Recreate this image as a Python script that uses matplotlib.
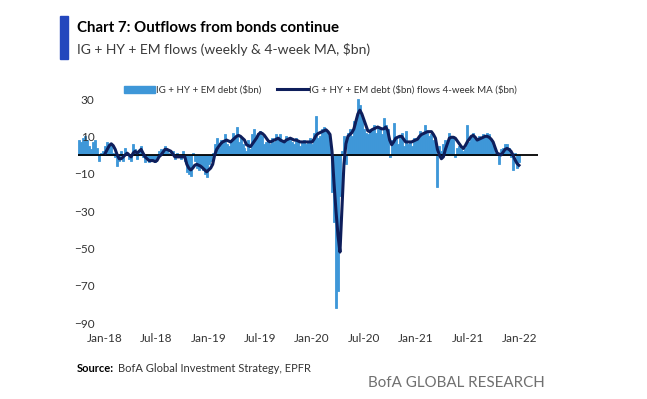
import numpy as np
import pandas as pd
import matplotlib.pyplot as plt
from matplotlib.patches import Rectangle
from matplotlib.lines import Line2D
import matplotlib.dates as mdates

plt.rcParams['font.family'] = ['Lato', 'DejaVu Sans']
plt.rcParams['text.parse_math'] = False

# Weekly flows, IG + HY + EM debt ($bn), weeks ending Wednesday from 4-Oct-2017
weeks = pd.date_range('2017-10-04', periods=222, freq='7D')
flows = [
    # Oct-Dec 2017
    8, 7, 9, 10, 8, 5, 3, 7, 8, 4, -3, 1, 2,
    # 2018
    5, 7, 6, 6, 1, -1, -6, -3, 2,
    -3, 4, 1, -2, -3, 6, 3, -2, 2, 5, -1, -4, -2,
    -4, -3, -3, -4, -1, 2, 3,
    2, 5, 3, 1, 0, 2,
    -2, 1, -1, -2, 2, -3,
    -9, -10, -11, 1, -3, -7, -8, -5, -8, -10, -12, -5, -3, 1,
    # 2019
    6, 9, 4, 8, 7, 11, 6, 5, 8, 12, 9, 15, 7,
    9, 6, 4, 2, 8, 3,
    11, 14, 8, 12, 13, 10, 6, 7, 8,
    6, 9, 7, 11, 9, 11, 8, 7, 10, 9, 8, 7, 6, 9, 8, 5, 7, 8, 6, 7, 9, 6,
    # 2020
    12, 21, 9, 10, 14, 15, 13, 12, 6,
    -20, -36, -82, -73, -22, 2, 10, -5,
    12, 14, 10, 18, 17, 30, 27, 20, 14, 12, 11,
    14, 13, 16, 12, 15, 14, 11, 20, 16, 14,
    -1, 8, 17, 9, 6,
    10, 12, 5, 13, 6, 7, 5, 9, 8,
    # 2021
    9, 13, 11, 12, 16, 12, 10, 11, 8, 7,
    -17, 5, 2, 6, 8,
    7, 12, 9, 10, -1, 4, 5, 3, 2, 4, 16, 7, 10, 12, 9,
    8, 10, 9, 11, 10, 12, 11, 8, 5, 1, 1, -5, 3,
    4, 6, 6, 4, -1, -8, 1, -7, -4,
]

# 4-week moving average ($bn), from 3-Jan-2018
ma_weeks = weeks[13:]
ma = [
    1, 3, 5, 6, 5, 3, 0, -2, -2, -1, 0, 1, 0, -1, 1, 2, 1, 2, 3, 1, -1, -2,
    -3, -3, -3, -3.5, -3, -1, 0, 1.5, 3, 3, 2.5, 2, 0.5, -1, -1, -1, -1, -1, -1,
    -5, -7, -8, -7, -5.5, -5, -5.5, -6, -7, -8, -9, -8, -7, -5,
    0, 3, 4.5, 6, 7, 7.5, 8, 7.5, 7, 8, 9, 10, 10.5, 10, 9, 8, 5.5, 5, 4.5,
    6, 7.5, 9, 11, 12, 11.5, 10.5, 9, 7.5, 7, 7.5, 8, 8.5, 9, 8, 7.5, 7,
    8, 8.5, 9, 8.5, 8, 8, 7.5, 7, 7, 7, 7, 7, 7, 7,
    8.5, 10.5, 11.5, 12, 12.5, 13, 13.5, 12.5, 11,
    2, -15, -30, -43, -52, -28, -5, 6, 10, 11, 12, 14, 18, 22, 24, 22, 19, 16, 13,
    12.5, 13.5, 14, 14.5, 15, 14.5, 14, 14, 15, 13, 8, 5.5, 7, 9, 9.5,
    10, 10, 8.5, 7, 7, 7, 7, 7.5, 8,
    8.5, 10, 11, 11.5, 12, 12.5, 12.5, 12.5, 11, 9, 3, 0, -2, -1, 3,
    6, 9, 9.5, 9.5, 9, 7.5, 6, 4.5, 3.5, 5, 7, 8.5, 10, 10.5, 9.5,
    8, 8.5, 9, 9.5, 10, 10, 9.5, 8.5, 7, 4, 1, 0.5, 0,
    1.5, 3, 3.5, 3, 2, 0, -2.5, -4.5, -5.5,
]

yticks = [30, 10, -10, -30, -50, -70, -90]
xticks = pd.to_datetime(['2018-01-01', '2018-07-01', '2019-01-01', '2019-07-01',
                         '2020-01-01', '2020-07-01', '2021-01-01', '2021-07-01',
                         '2022-01-01'])

bar_color = '#3e97d8'
line_color = '#0e1e5b'

fig = plt.figure(figsize=(6.47, 3.99), dpi=100)
ax = fig.add_axes([78 / 647, 1 - 323 / 399, 460 / 647, 224 / 399])

ax.bar(weeks, flows, width=7, color=bar_color, align='center',
       linewidth=0.6, edgecolor=bar_color, label='IG + HY + EM debt ($bn)')
ax.axhline(0, color='black', linewidth=1.3, zorder=3)
ax.plot(ma_weeks, ma, color=line_color, linewidth=2.2, zorder=4,
        label='IG + HY + EM debt ($bn) flows 4-week MA ($bn)')

ax.set_xlim(pd.Timestamp('2017-09-29'), pd.Timestamp('2022-03-06'))
ax.set_ylim(-90, 30)
ax.set_yticks(yticks)
ax.set_xticks(xticks)
ax.xaxis.set_major_formatter(mdates.DateFormatter('%b-%y'))
ax.tick_params(axis='y', length=0, pad=-12, labelsize=8.5, labelcolor='#333333')
ax.tick_params(axis='x', length=0, pad=7, labelsize=8.5, labelcolor='#333333')
for lbl in ax.get_yticklabels():
    lbl.set_horizontalalignment('right')
for s in ax.spines.values():
    s.set_visible(False)

handles = [Rectangle((0, 0), 1, 1, color=bar_color),
           Line2D([0], [0], color=line_color, linewidth=2.2)]
fig.legend(handles, ['IG + HY + EM debt ($bn)',
                     'IG + HY + EM debt ($bn) flows 4-week MA ($bn)'],
           loc='center', bbox_to_anchor=(320 / 647, 1 - 90 / 399), ncol=2,
           frameon=False, fontsize=7, handlelength=3.2, handletextpad=0.1,
           columnspacing=1.6, labelcolor='#333333')

# header
fig.patches.append(Rectangle((60 / 647, 1 - 59 / 399), 8 / 647, 43 / 399,
                             transform=fig.transFigure, color='#2347bd'))
fig.text(77 / 647, 1 - 28 / 399, 'Chart 7: Outflows from bonds continue',
         fontsize=10.8, fontweight='bold', va='center', color='black')
fig.text(77 / 647, 1 - 50 / 399, 'IG + HY + EM flows (weekly & 4-week MA, $bn)',
         fontsize=10, va='center', color='#3a3a3a')

# footer
fig.text(77 / 647, 1 - 369 / 399, 'Source:', fontsize=8, fontweight='bold',
         va='center', color='black')
fig.text(118 / 647, 1 - 369 / 399, 'BofA Global Investment Strategy, EPFR',
         fontsize=8, va='center', color='#333333')
fig.text(545 / 647, 1 - 383 / 399, 'BofA GLOBAL RESEARCH', fontsize=10.9,
         ha='right', va='center', color='#707070')

plt.savefig('out.png', dpi=100)
